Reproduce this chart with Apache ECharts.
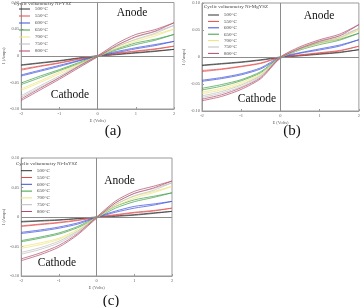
<!DOCTYPE html>
<html lang="en">
<head>
<meta charset="UTF-8">
<title>cyclic voltammetry</title>
<script src="https://cdn.jsdelivr.net/npm/echarts@6.0.0/dist/echarts.min.js"></script>
<style>
    body { margin: 0; padding: 0; background: #fff; }
    #main { width: 363px; height: 307px; }
</style>
</head>
<body>
<div id="main"></div>
<script>
  // sweep voltages (V)
  var voltages = [-2, -1.5, -1, -0.5, 0, 0.5, 1, 1.5, 2];
  var temps = ['500°C', '550°C', '600°C', '650°C', '700°C', '750°C', '800°C'];
  var tempColors = ['#303030', '#e24a4a', '#3a4ed8', '#3c9c44', '#ece27a', '#bcbcbc', '#b04a68'];
  var yTicks = [-0.1, -0.05, 0, 0.05, 0.1];

  // (a) Ni-YSZ, current in A, forward and return sweep (listed by ascending voltage)
  var niYszFwd = [
    [-0.017, -0.013, -0.009, -0.004, 0.000, 0.003, 0.006, 0.009, 0.012],
    [-0.025, -0.019, -0.013, -0.006, 0.000, 0.005, 0.009, 0.013, 0.018],
    [-0.036, -0.027, -0.018, -0.009, 0.000, 0.008, 0.015, 0.021, 0.027],
    [-0.051, -0.038, -0.026, -0.013, 0.000, 0.013, 0.024, 0.031, 0.040],
    [-0.062, -0.047, -0.031, -0.016, 0.000, 0.017, 0.030, 0.040, 0.050],
    [-0.075, -0.056, -0.038, -0.019, 0.000, 0.020, 0.035, 0.045, 0.057],
    [-0.081, -0.061, -0.041, -0.020, 0.000, 0.023, 0.040, 0.049, 0.062]
  ];
  var niYszRev = [
    [-0.018, -0.014, -0.010, -0.005, -0.001, 0.002, 0.005, 0.008, 0.012],
    [-0.027, -0.020, -0.014, -0.007, -0.001, 0.004, 0.008, 0.012, 0.018],
    [-0.038, -0.029, -0.020, -0.010, -0.001, 0.006, 0.013, 0.019, 0.027],
    [-0.054, -0.041, -0.028, -0.015, -0.002, 0.011, 0.021, 0.029, 0.040],
    [-0.065, -0.050, -0.034, -0.018, -0.002, 0.014, 0.027, 0.037, 0.050],
    [-0.078, -0.059, -0.041, -0.021, -0.002, 0.017, 0.031, 0.042, 0.057],
    [-0.084, -0.064, -0.044, -0.023, -0.002, 0.019, 0.036, 0.046, 0.062]
  ];

  // (b) Ni-MgYSZ
  var niMgYszFwd = [
    [-0.015, -0.012, -0.009, -0.005, 0.000, 0.003, 0.006, 0.009, 0.0135],
    [-0.025, -0.022, -0.017, -0.011, 0.000, 0.004, 0.008, 0.012, 0.020],
    [-0.043, -0.038, -0.031, -0.020, 0.000, 0.008, 0.015, 0.022, 0.032],
    [-0.058, -0.051, -0.042, -0.027, 0.000, 0.015, 0.026, 0.033, 0.044],
    [-0.065, -0.058, -0.047, -0.031, 0.000, 0.016, 0.028, 0.036, 0.050],
    [-0.072, -0.064, -0.052, -0.034, 0.000, 0.017, 0.030, 0.039, 0.053],
    [-0.078, -0.070, -0.057, -0.038, 0.000, 0.019, 0.032, 0.042, 0.060]
  ];
  var niMgYszRev = [
    [-0.016, -0.013, -0.010, -0.006, -0.001, 0.002, 0.005, 0.008, 0.0135],
    [-0.027, -0.023, -0.018, -0.012, -0.001, 0.003, 0.007, 0.011, 0.020],
    [-0.045, -0.040, -0.033, -0.022, -0.002, 0.007, 0.013, 0.020, 0.032],
    [-0.061, -0.054, -0.044, -0.029, -0.002, 0.013, 0.023, 0.031, 0.044],
    [-0.068, -0.061, -0.050, -0.033, -0.002, 0.014, 0.025, 0.034, 0.050],
    [-0.075, -0.067, -0.055, -0.036, -0.002, 0.015, 0.027, 0.036, 0.053],
    [-0.081, -0.073, -0.060, -0.040, -0.002, 0.016, 0.029, 0.039, 0.060]
  ];

  // (c) Ni-InYSZ
  var niInYszFwd = [
    [-0.0075, -0.006, -0.0046, -0.0025, 0.000, 0.002, 0.004, 0.007, 0.0095],
    [-0.015, -0.012, -0.009, -0.005, 0.000, 0.004, 0.008, 0.011, 0.015],
    [-0.026, -0.022, -0.017, -0.010, 0.000, 0.010, 0.018, 0.022, 0.0265],
    [-0.040, -0.034, -0.027, -0.016, 0.000, 0.018, 0.029, 0.035, 0.041],
    [-0.050, -0.044, -0.036, -0.021, 0.000, 0.021, 0.035, 0.043, 0.052],
    [-0.060, -0.052, -0.041, -0.024, 0.000, 0.024, 0.040, 0.048, 0.058],
    [-0.071, -0.061, -0.048, -0.028, 0.000, 0.027, 0.0435, 0.052, 0.061]
  ];
  var niInYszRev = [
    [-0.0085, -0.007, -0.0055, -0.003, -0.001, 0.001, 0.003, 0.006, 0.0095],
    [-0.016, -0.013, -0.010, -0.006, -0.001, 0.003, 0.007, 0.010, 0.015],
    [-0.028, -0.024, -0.019, -0.012, -0.001, 0.008, 0.015, 0.020, 0.0265],
    [-0.042, -0.036, -0.029, -0.018, -0.002, 0.015, 0.026, 0.033, 0.041],
    [-0.053, -0.047, -0.038, -0.023, -0.002, 0.018, 0.032, 0.041, 0.052],
    [-0.063, -0.055, -0.044, -0.026, -0.002, 0.021, 0.036, 0.045, 0.058],
    [-0.074, -0.064, -0.051, -0.030, -0.002, 0.024, 0.040, 0.049, 0.061]
  ];

  var panels = [
    { label: 'Cyclic voltammetry Ni-YSZ', fwd: niYszFwd, rev: niYszRev,
      grid: { left: 14, top: 0, width: 160, height: 109 },
      legendTop: 5.5, rowH: 7, titleY: 4, lineX: 19, titleX: 14,
      anode: [132, 13], cathode: [70, 95], caption: ['(a)', 113, 131], nameGap: 11 },
    { label: 'Cyclic voltammetry Ni-MgYSZ', fwd: niMgYszFwd, rev: niMgYszRev,
      grid: { left: 202, top: 3, width: 157, height: 108 },
      legendTop: 11.8, rowH: 6.4, titleY: 6.7, lineX: 208, titleX: 204,
      anode: [319, 16], cathode: [257, 99], caption: ['(b)', 292, 131], nameGap: 13 },
    { label: 'Cyclic voltammetry Ni-InYSZ', fwd: niInYszFwd, rev: niInYszRev,
      grid: { left: 14, top: 158, width: 158, height: 118 },
      legendTop: 167.3, rowH: 6.8, titleY: 164, lineX: 21, titleX: 16,
      anode: [119.5, 181], cathode: [57, 263], caption: ['(c)', 111, 301], nameGap: 11 }
  ];

  var serif = '"Liberation Serif", "DejaVu Serif", serif';
  var grids = [], xAxes = [], yAxes = [], legends = [], series = [], graphics = [];

  panels.forEach(function (p, gi) {
    grids.push(Object.assign({ show: true, borderColor: '#9a9a9a', borderWidth: 1,
      backgroundColor: 'transparent' }, p.grid));
    xAxes.push({
      type: 'value', gridIndex: gi, min: -2, max: 2, interval: 1,
      name: 'E (Volts)', nameLocation: 'middle', nameGap: 9,
      nameTextStyle: { fontSize: 4.5, color: '#666', fontFamily: serif },
      axisLine: { onZero: false, lineStyle: { color: '#9a9a9a' } },
      axisTick: { inside: true, length: 2, lineStyle: { color: '#9a9a9a' } },
      axisLabel: { fontSize: 4.5, color: '#666', margin: 2, fontFamily: serif },
      splitLine: { show: false }
    });
    yAxes.push({
      type: 'value', gridIndex: gi, min: yTicks[0], max: yTicks[yTicks.length - 1], interval: 0.05,
      name: 'I (Amps)', nameLocation: 'middle', nameGap: p.nameGap,
      nameTextStyle: { fontSize: 4.5, color: '#666', fontFamily: serif },
      axisLine: { onZero: false, lineStyle: { color: '#9a9a9a' } },
      axisTick: { inside: true, length: 2, lineStyle: { color: '#9a9a9a' } },
      axisLabel: { fontSize: 4.5, color: '#666', margin: 2, fontFamily: serif,
        formatter: function (v) { return Math.abs(v) < 1e-9 ? '0' : v.toFixed(2); } },
      splitLine: { show: false }
    });
    legends.push({
      orient: 'vertical', left: p.lineX, top: p.legendTop, padding: 0,
      itemGap: 0, itemWidth: 11, itemHeight: 1, icon: 'rect',
      data: temps,
      textStyle: { fontSize: 5, color: '#444', fontFamily: serif, lineHeight: p.rowH }
    });
    temps.forEach(function (t, ti) {
      var pts = [];
      voltages.forEach(function (v, k) { pts.push([v, p.fwd[ti][k]]); });
      for (var k = voltages.length - 1; k >= 0; k--) pts.push([voltages[k], p.rev[ti][k]]);
      var s = {
        name: t, type: 'line', xAxisIndex: gi, yAxisIndex: gi,
        data: pts, smooth: 0.25, symbol: 'none', silent: true, animation: false,
        lineStyle: { width: 0.7, color: tempColors[ti] },
        itemStyle: { color: tempColors[ti] }
      };
      if (ti === 0) {
        s.markLine = {
          silent: true, symbol: 'none', label: { show: false },
          lineStyle: { color: '#8c8c8c', width: 1, type: 'solid' },
          data: [{ xAxis: 0 }, { yAxis: 0 }]
        };
      }
      series.push(s);
    });
    graphics.push(
      { type: 'text', left: p.titleX, top: p.titleY - 3,
        style: { text: p.label, font: '5px ' + serif, fill: '#444' } },
      { type: 'text', x: p.anode[0], y: p.anode[1],
        style: { text: 'Anode', font: '11.5px ' + serif, fill: '#111', align: 'center', verticalAlign: 'middle' } },
      { type: 'text', x: p.cathode[0], y: p.cathode[1],
        style: { text: 'Cathode', font: '11.5px ' + serif, fill: '#111', align: 'center', verticalAlign: 'middle' } },
      { type: 'text', x: p.caption[1], y: p.caption[2],
        style: { text: p.caption[0], font: '15px ' + serif, fill: '#111', align: 'center', verticalAlign: 'middle' } }
    );
  });

  var myChart = echarts.init(document.getElementById('main'));
  myChart.setOption({
    animation: false,
    grid: grids,
    xAxis: xAxes,
    yAxis: yAxes,
    legend: legends,
    series: series,
    graphic: graphics
  });
</script>
</body>
</html>
